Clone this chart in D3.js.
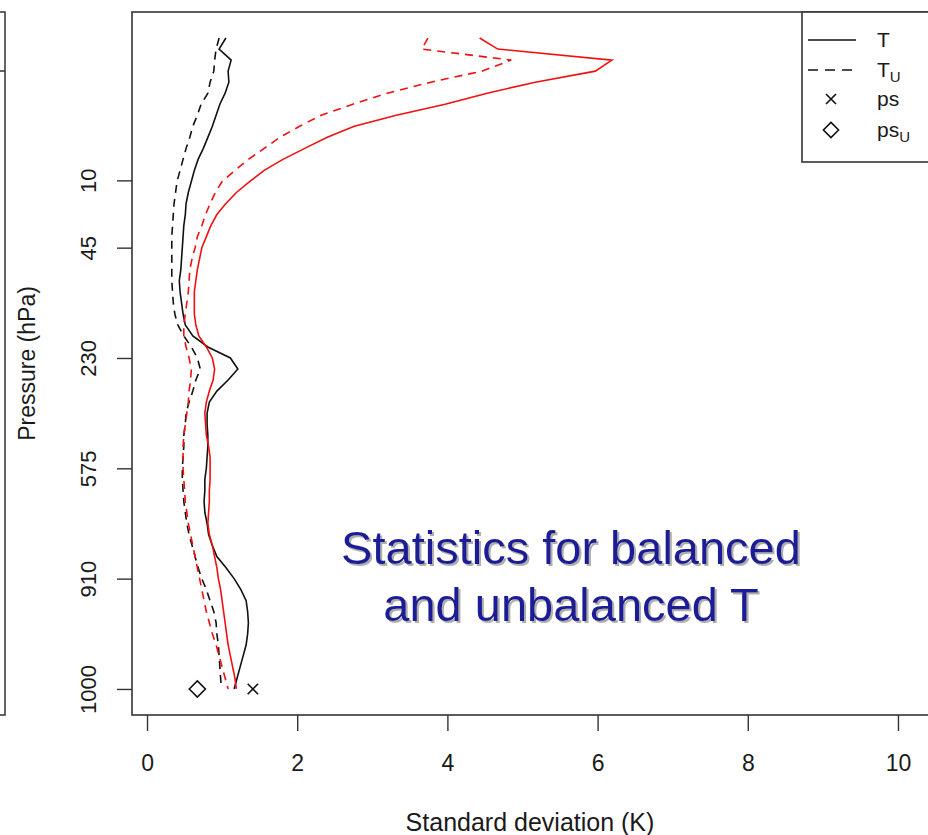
<!DOCTYPE html>
<html lang="en">
<head>
<meta charset="UTF-8">
<title>Balanced and unbalanced T</title>
<script src="https://d3js.org/d3.v7.min.js"></script>
<style>
  body { margin: 0; background: #fff; }
  text { font-family: "Liberation Sans", Arial, Helvetica, sans-serif; fill: #1a1a1a; }
</style>
</head>
<body>
<div id="chart"></div>
<script>
// model levels (1 = top, 60 = surface)
const levels = d3.range(1, 61);

// standard deviation (K) per level
const tBlack = [1.05,0.96,1.12,1.08,1.09,1.04,0.97,0.92,0.87,0.81,
  0.75,0.68,0.63,0.59,0.55,0.52,0.51,0.49,0.48,0.47,
  0.46,0.45,0.43,0.44,0.46,0.48,0.51,0.61,0.81,1.11,
  1.21,1.08,0.93,0.83,0.80,0.80,0.81,0.81,0.80,0.79,
  0.77,0.77,0.76,0.77,0.80,0.82,0.87,0.93,1.05,1.16,
  1.25,1.32,1.34,1.35,1.34,1.32,1.28,1.24,1.20,1.16];
const tuBlack = [0.96,0.92,0.90,0.89,0.84,0.81,0.72,0.67,0.61,0.57,
  0.52,0.48,0.44,0.40,0.38,0.36,0.35,0.34,0.33,0.33,
  0.33,0.33,0.33,0.34,0.35,0.37,0.41,0.49,0.59,0.67,
  0.71,0.65,0.61,0.56,0.52,0.51,0.49,0.49,0.48,0.47,
  0.47,0.48,0.49,0.51,0.53,0.56,0.60,0.64,0.68,0.73,
  0.79,0.84,0.89,0.92,0.93,0.95,0.96,0.97,0.98,0.99];
const tRed = [4.43,4.67,6.19,5.97,5.17,4.53,3.97,3.32,2.76,2.40,
  2.10,1.81,1.56,1.37,1.19,1.05,0.93,0.85,0.79,0.73,
  0.70,0.67,0.65,0.63,0.63,0.63,0.65,0.69,0.79,0.87,
  0.90,0.88,0.83,0.79,0.77,0.78,0.79,0.82,0.84,0.84,
  0.84,0.83,0.83,0.82,0.81,0.83,0.87,0.90,0.93,0.95,
  0.98,1.00,1.02,1.04,1.06,1.08,1.11,1.14,1.17,1.19];
const tuRed = [3.74,3.66,4.85,4.46,3.78,3.20,2.74,2.32,2.03,1.77,
  1.56,1.35,1.17,1.00,0.91,0.84,0.78,0.73,0.67,0.64,
  0.60,0.57,0.56,0.55,0.53,0.51,0.49,0.49,0.52,0.56,
  0.59,0.58,0.56,0.55,0.53,0.51,0.49,0.48,0.48,0.48,
  0.49,0.50,0.51,0.53,0.55,0.58,0.61,0.64,0.67,0.70,
  0.73,0.76,0.79,0.83,0.87,0.92,0.96,1.00,1.04,1.08];

// surface pressure points
const psValue = 1.41, psLevel = 60;
const psUValue = 0.67, psULevel = 60;

// axis ticks
const xTicks = [0, 2, 4, 6, 8, 10];
const yTickLevels = [13.9, 20, 30, 40, 50, 60];
const yTickLabels = ["10", "45", "230", "575", "910", "1000"];

const W = 928, H = 835;
const box = {left: 132, top: 12, right: 928, bottom: 715};

const svg = d3.select("#chart").append("svg")
    .attr("width", W)
    .attr("height", H);

const defs = svg.append("defs");
defs.append("filter")
    .attr("id", "shadow")
    .attr("x", "-5%").attr("y", "-20%")
    .attr("width", "110%").attr("height", "140%")
  .append("feDropShadow")
    .attr("dx", 2).attr("dy", 2)
    .attr("stdDeviation", 0.6)
    .attr("flood-color", "#9a9a9a")
    .attr("flood-opacity", 0.8);

const x = d3.scaleLinear().domain([-0.2, 10.4]).range([box.left, box.right]);
const y = d3.scaleLinear().domain([-1.36, 62.36]).range([box.top, box.bottom]);

// fragment of the neighbouring panel on the left
const frag = svg.append("g").attr("stroke", "#333").attr("stroke-width", 1.5).attr("fill", "none");
frag.append("path").attr("d", `M0,${box.top}H5V${box.bottom}H0`);
frag.append("path").attr("d", "M0,71H5");

// plot box
svg.append("rect")
    .attr("x", box.left).attr("y", box.top)
    .attr("width", box.right - box.left + 2)
    .attr("height", box.bottom - box.top)
    .attr("fill", "none")
    .attr("stroke", "#333")
    .attr("stroke-width", 1.6);

// x axis
const xAxis = svg.append("g")
    .attr("transform", `translate(0,${box.bottom})`)
    .call(d3.axisBottom(x).tickValues(xTicks).tickSize(16).tickPadding(24).tickFormat(d3.format("d")));
xAxis.select(".domain").remove();
xAxis.selectAll("line").attr("stroke", "#333").attr("stroke-width", 1.4);
xAxis.selectAll("text")
    .attr("font-size", 23)
    .attr("fill", "#1a1a1a")
    .attr("font-family", "Liberation Sans, Arial, sans-serif");

// y axis (model level, labelled in hPa)
const yAxis = svg.append("g")
    .attr("transform", `translate(${box.left},0)`)
    .call(d3.axisLeft(y).tickValues(yTickLevels).tickSize(15)
        .tickFormat((d, i) => yTickLabels[i]));
yAxis.select(".domain").remove();
yAxis.selectAll("line").attr("stroke", "#333").attr("stroke-width", 1.4);
yAxis.selectAll("text")
    .attr("font-size", 22)
    .attr("fill", "#1a1a1a")
    .attr("font-family", "Liberation Sans, Arial, sans-serif")
    .attr("text-anchor", "middle")
    .attr("x", null).attr("dy", null)
    .attr("transform", "translate(-36,0) rotate(-90)");

// axis titles
svg.append("text")
    .attr("x", 530)
    .attr("y", 831)
    .attr("text-anchor", "middle")
    .attr("font-size", 25)
    .text("Standard deviation (K)");

svg.append("text")
    .attr("transform", `translate(35,${(box.top + box.bottom) / 2}) rotate(-90)`)
    .attr("text-anchor", "middle")
    .attr("font-size", 23)
    .text("Pressure (hPa)");

// profiles
const line = d3.line()
    .x(d => x(d[0]))
    .y(d => y(d[1]));

const series = [
  {values: tBlack, color: "#111", dash: null},
  {values: tuBlack, color: "#111", dash: "8,6"},
  {values: tRed, color: "#f01010", dash: null},
  {values: tuRed, color: "#f01010", dash: "8,6"}
];

svg.append("g")
  .selectAll("path")
  .data(series)
  .join("path")
    .attr("d", s => line(s.values.map((v, i) => [v, levels[i]])))
    .attr("fill", "none")
    .attr("stroke", s => s.color)
    .attr("stroke-width", 1.6)
    .attr("stroke-dasharray", s => s.dash);

// markers
const timesSymbol = {
  draw(ctx, size) {
    const r = Math.sqrt(size) / 2;
    ctx.moveTo(-r, -r); ctx.lineTo(r, r);
    ctx.moveTo(-r, r); ctx.lineTo(r, -r);
  }
};
const diamondSymbol = {
  draw(ctx, size) {
    const r = Math.sqrt(size) / 2;
    ctx.moveTo(0, -r); ctx.lineTo(r, 0); ctx.lineTo(0, r); ctx.lineTo(-r, 0); ctx.closePath();
  }
};

svg.append("path")
    .attr("transform", `translate(${x(psValue)},${y(psLevel)})`)
    .attr("d", d3.symbol().type(timesSymbol).size(110)())
    .attr("fill", "none").attr("stroke", "#111").attr("stroke-width", 1.6);
svg.append("path")
    .attr("transform", `translate(${x(psUValue)},${y(psULevel)})`)
    .attr("d", d3.symbol().type(diamondSymbol).size(260)())
    .attr("fill", "none").attr("stroke", "#111").attr("stroke-width", 1.6);

// legend
const legend = svg.append("g");
legend.append("rect")
    .attr("x", 802).attr("y", box.top)
    .attr("width", 140).attr("height", 150)
    .attr("fill", "#fff")
    .attr("stroke", "#333")
    .attr("stroke-width", 1.6);

const legendItems = [
  {label: "T", sub: null, kind: "line", dash: null},
  {label: "T", sub: "U", kind: "line", dash: "10,7"},
  {label: "ps", sub: null, kind: "times"},
  {label: "ps", sub: "U", kind: "diamond"}
];
const legendY = [40, 70, 99, 130];

const item = legend.selectAll("g.item")
  .data(legendItems)
  .join("g")
    .attr("class", "item")
    .attr("transform", (d, i) => `translate(0,${legendY[i]})`);

item.filter(d => d.kind === "line").append("line")
    .attr("x1", 808).attr("x2", 856)
    .attr("stroke", "#111").attr("stroke-width", 1.6)
    .attr("stroke-dasharray", d => d.dash);
item.filter(d => d.kind === "times").append("path")
    .attr("transform", "translate(831,0)")
    .attr("d", d3.symbol().type(timesSymbol).size(100)())
    .attr("fill", "none").attr("stroke", "#111").attr("stroke-width", 1.6);
item.filter(d => d.kind === "diamond").append("path")
    .attr("transform", "translate(831,0)")
    .attr("d", d3.symbol().type(diamondSymbol).size(230)())
    .attr("fill", "none").attr("stroke", "#111").attr("stroke-width", 1.6);

const lt = item.append("text")
    .attr("x", 877)
    .attr("y", 7)
    .attr("font-size", 21);
lt.append("tspan").text(d => d.label);
lt.filter(d => d.sub).append("tspan")
    .attr("font-size", 15)
    .attr("dy", 5)
    .text(d => d.sub);

// annotation
const note = ["Statistics for balanced", "and unbalanced T"];
const noteY = [564, 621];
svg.append("g")
    .attr("filter", "url(#shadow)")
  .selectAll("text")
  .data(note)
  .join("text")
    .attr("x", 571)
    .attr("y", (d, i) => noteY[i])
    .attr("text-anchor", "middle")
    .attr("font-size", 47)
    .style("fill", "#1a1a96")
    .text(d => d);
</script>
</body>
</html>
